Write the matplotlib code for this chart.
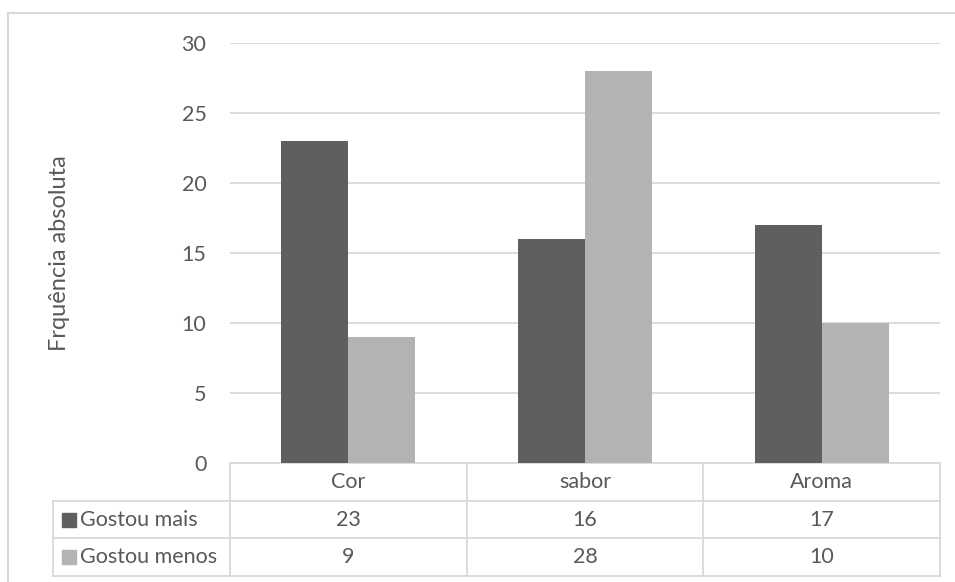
import matplotlib.pyplot as plt
from matplotlib.patches import Rectangle
import numpy as np

categorias = ['Cor', 'sabor', 'Aroma']
gostou_mais = [23, 16, 17]
gostou_menos = [9, 28, 10]
series = ['Gostou mais', 'Gostou menos']
cores = ['#5f5f5f', '#b3b3b3']
texto = '#595959'
linha = '#d9d9d9'

plt.rcParams['font.family'] = ['Lato', 'DejaVu Sans']
fs = 15.5

fig = plt.figure(figsize=(9.55, 5.82), dpi=100)
ax = fig.add_axes([230 / 955, 1 - 463 / 582, 710 / 955, 420 / 582])

x = np.arange(len(categorias))
w = 0.283
ax.bar(x - w / 2, gostou_mais, w, color=cores[0], zorder=3)
ax.bar(x + w / 2, gostou_menos, w, color=cores[1], zorder=3)

ax.set_xlim(-0.5, len(categorias) - 0.5)
ax.set_ylim(0, 30)
ax.set_yticks(range(0, 31, 5))
ax.set_xticks([])
ax.yaxis.grid(True, color=linha, linewidth=1.3, zorder=0)
for s in ['left', 'right', 'top']:
    ax.spines[s].set_visible(False)
ax.spines['bottom'].set_color(linha)
ax.spines['bottom'].set_linewidth(1.3)
ax.tick_params(axis='y', length=0, pad=17, labelsize=fs, labelcolor=texto)
ax.set_ylabel('Frquência absoluta', fontsize=17, color=texto, va='center')
ax.yaxis.set_label_coords((59 - 230) / 710, (463 - 253) / 420)

# tabela de dados
rh = 37.7 / 420
xl = (53 - 230) / 710
kw = dict(transform=ax.transAxes, clip_on=False, color=linha, lw=1.3)
# linhas horizontais
ax.plot([xl, 1], [-rh, -rh], **kw)
ax.plot([xl, 1], [-2 * rh, -2 * rh], **kw)
ax.plot([xl, 1], [-3 * rh, -3 * rh], **kw)
# linhas verticais
ax.plot([xl, xl], [-rh, -3 * rh], **kw)
for i in range(len(categorias) + 1):
    xi = i / len(categorias)
    ax.plot([xi, xi], [0, -3 * rh], **kw)

tk = dict(transform=ax.transAxes, ha='center', va='center', fontsize=fs, color=texto)
for i, c in enumerate(categorias):
    xc = (i + 0.5) / len(categorias)
    ax.text(xc, -0.5 * rh, c, **tk)
    ax.text(xc, -1.5 * rh, str(gostou_mais[i]), **tk)
    ax.text(xc, -2.5 * rh, str(gostou_menos[i]), **tk)

for j, nome in enumerate(series):
    yc = -(1.5 + j) * rh
    ax.add_patch(Rectangle((xl + 9 / 710, yc - 7 / 420), 14 / 710, 14 / 420,
                           transform=ax.transAxes, clip_on=False,
                           color=cores[j]))
    ax.text(xl + 27 / 710, yc, nome, transform=ax.transAxes, ha='left',
            va='center', fontsize=fs, color=texto)

# moldura do gráfico
fig.add_artist(plt.Line2D([8 / 955, 8 / 955], [0, 1 - 13 / 582], color=linha, lw=1.5))
fig.add_artist(plt.Line2D([8 / 955, 1], [1 - 13 / 582, 1 - 13 / 582], color=linha, lw=1.5))

fig.savefig('out.png', dpi=100)
